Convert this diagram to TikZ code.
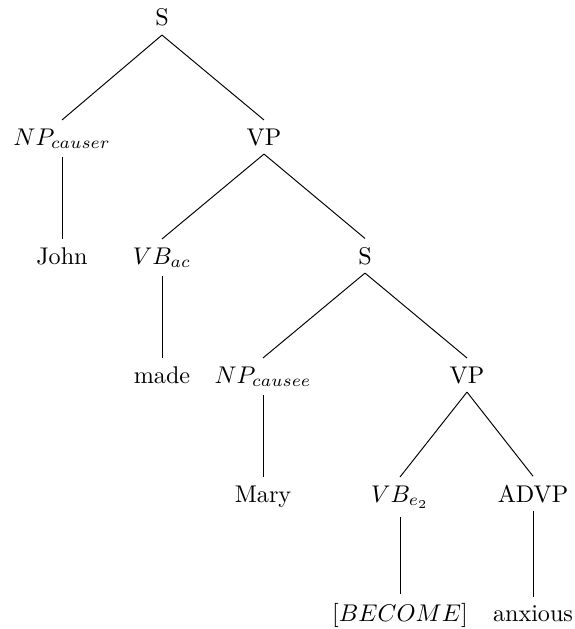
\documentclass[tikz,border=0pt]{standalone}
\begin{document}
\begin{tikzpicture}[x=0.4141pt, y=-0.4141pt,
  tnode/.style={anchor=base, inner sep=3.33pt},
  branch/.style={line width=0.4pt}]
\useasboundingbox (0,0) rectangle (575,629);

% tree nodes (positions give the baseline of each label)
\node[tnode] (s1)  at (162,26)  {S};
\node[tnode] (npc) at (62,145)  {$NP_{causer}$};
\node[tnode] (vp1) at (264,145) {VP};
\node[tnode] (john) at (62,264) {John};
\node[tnode] (vbac) at (162,264) {$VB_{ac}$};
\node[tnode] (s2)  at (365,264) {S};
\node[tnode] (made) at (162,383) {made};
\node[tnode] (npe) at (263,383) {$NP_{causee}$};
\node[tnode] (vp2) at (467,383) {VP};
\node[tnode] (mary) at (263,502) {Mary};
\node[tnode] (vbe) at (400,502) {$VB_{e_2}$};
\node[tnode] (advp) at (533,502) {ADVP};
\node[tnode] (become) at (400,621) {$[BECOME]$};
\node[tnode] (anx) at (533,621) {anxious};

% branches
\draw[branch] (s1.south) -- (npc.north);
\draw[branch] (s1.south) -- (vp1.north);
\draw[branch] (npc.south) -- (john.north);
\draw[branch] (vp1.south) -- (vbac.north);
\draw[branch] (vp1.south) -- (s2.north);
\draw[branch] (vbac.south) -- (made.north);
\draw[branch] (s2.south) -- (npe.north);
\draw[branch] (s2.south) -- (vp2.north);
\draw[branch] (npe.south) -- (mary.north);
\draw[branch] (vp2.south) -- (vbe.north);
\draw[branch] (vp2.south) -- (advp.north);
\draw[branch] (vbe.south) -- (become.north);
\draw[branch] (advp.south) -- (anx.north);
\end{tikzpicture}
\end{document}
